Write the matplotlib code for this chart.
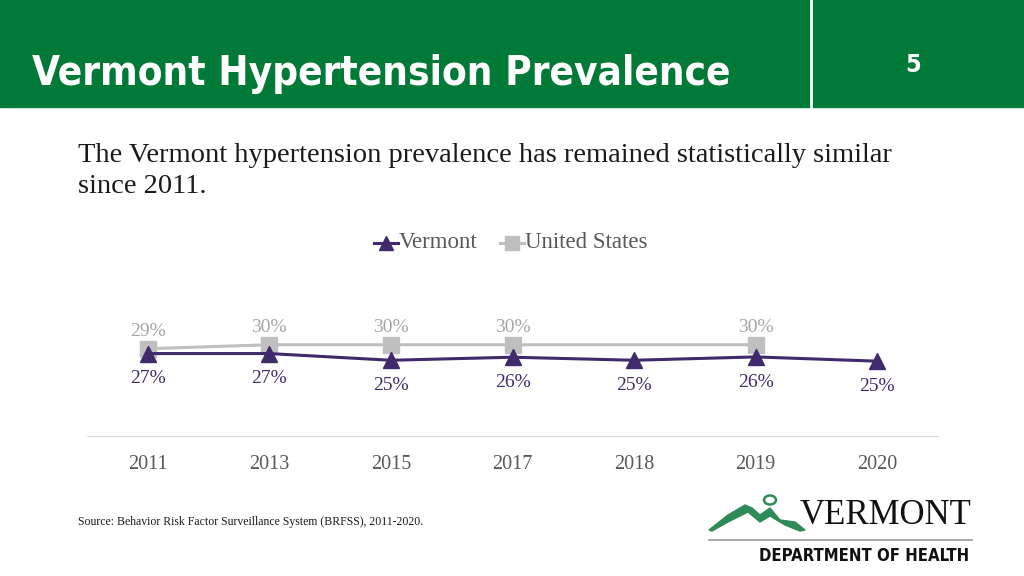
import numpy as np
import matplotlib
matplotlib.use('Agg')
import matplotlib.pyplot as plt
from matplotlib.patches import Rectangle, Polygon, Ellipse

# data
years = ['2011', '2013', '2015', '2017', '2018', '2019', '2020']
vermont = [27.1, 27.1, 24.9, 25.9, 24.9, 26.0, 24.6]
vermont_lbl = ['27%', '27%', '25%', '26%', '25%', '26%', '25%']
us = [28.7, 30.0, 30.0, 30.0, np.nan, 30.0, np.nan]
us_lbl = ['29%', '30%', '30%', '30%', '', '30%', '']

purple = '#402a6b'
grey = '#bfbfbf'
green = '#017a38'
serif = ['Liberation Serif', 'DejaVu Serif']
sans = ['DejaVu Sans']

fig = plt.figure(figsize=(10.24, 5.76), dpi=100)
lx = lambda v: v / 1024
ly = lambda v: 1 - v / 576

# header band
fig.patches.append(Rectangle((0, ly(107)), 1, 107/576, transform=fig.transFigure,
                             color=green, zorder=0))
fig.lines.append(plt.Line2D([lx(811), lx(811)], [1, ly(107)], transform=fig.transFigure,
                            color='white', lw=2))
fig.text(lx(32), ly(74), 'Vermont Hypertension Prevalence', color='white',
         family=sans, weight='bold', fontstretch='condensed', fontsize=29,
         va='center', ha='left')
fig.text(lx(913), ly(65), '5', color='white', family=sans, fontstretch='condensed',
         weight='bold', fontsize=18, va='center', ha='center')

fig.text(lx(78), ly(156), 'The Vermont hypertension prevalence has remained statistically similar',
         family=serif, fontsize=20.5, color='#1a1a1a', va='center')
fig.text(lx(78), ly(186), 'since 2011.', family=serif, fontsize=20.5, color='#1a1a1a', va='center')

ax = fig.add_axes([lx(87), ly(436), 851/1024, 146/576])
x = np.arange(len(years))

# grey line connects across the missing 2018 value
us_arr = np.array(us)
ok = ~np.isnan(us_arr)
ax.plot(x[ok], us_arr[ok], color=grey, lw=2.2, zorder=2)
ax.plot(x[ok], us_arr[ok], 's', color=grey, ms=11, zorder=3)
ax.plot(x, vermont, color=purple, lw=2.2, marker='^', ms=11, zorder=4)

for i in range(len(years)):
    if us_lbl[i]:
        ax.annotate(us_lbl[i], (x[i], us[i]), xytext=(0, 6), textcoords='offset points',
                    ha='center', va='bottom', color='#a6a6a6', family=serif, fontsize=14)
    ax.annotate(vermont_lbl[i], (x[i], vermont[i]), xytext=(0, -12), textcoords='offset points',
                ha='center', va='top', color=purple, family=serif, fontsize=14)

ax.set_xlim(-0.5, len(years) - 0.5)
ax.set_ylim(0, 48)
ax.set_xticks(x)
ax.set_xticklabels(years, family=serif, fontsize=14.5, color='#595959')
ax.tick_params(axis='x', length=0, pad=14)
ax.set_yticks([])
for s in ['top', 'left', 'right']:
    ax.spines[s].set_visible(False)
ax.spines['bottom'].set_color('#d9d9d9')

# legend
fig.lines.append(plt.Line2D([lx(374), lx(398)], [ly(243)] * 2, transform=fig.transFigure,
                            color=purple, lw=2.2))
fig.lines.append(plt.Line2D([lx(386)], [ly(243)], transform=fig.transFigure,
                            color=purple, marker='^', ms=10, lw=0))
fig.text(lx(399), ly(243), 'Vermont', family=serif, fontsize=16.5, color='#595959', va='center')
fig.lines.append(plt.Line2D([lx(500), lx(524)], [ly(243)] * 2, transform=fig.transFigure,
                            color=grey, lw=2.2))
fig.lines.append(plt.Line2D([lx(512)], [ly(243)], transform=fig.transFigure,
                            color=grey, marker='s', ms=10, lw=0))
fig.text(lx(525), ly(243), 'United States', family=serif, fontsize=16.5, color='#595959', va='center')

fig.text(lx(78), ly(522), 'Source: Behavior Risk Factor Surveillance System (BRFSS), 2011-2020.',
         family=serif, fontsize=8.5, color='#1a1a1a', va='center')

# logo, roughly
mountain = [(709, 530), (728, 515), (745, 505), (752, 508), (760, 515), (770, 508), (780, 520),
            (795, 522), (805, 530), (800, 531), (785, 525), (770, 516), (760, 522), (748, 512),
            (728, 522), (712, 531)]
fig.patches.append(Polygon([(lx(a), ly(b)) for a, b in mountain], closed=True,
                           transform=fig.transFigure, color='#2e8b57', zorder=3))
fig.patches.append(Ellipse((lx(770), ly(500)), 12/1024, 9/576, transform=fig.transFigure,
                           fill=False, ec='#2e8b57', lw=1.8))
fig.text(lx(971), ly(515), 'VERMONT', family=serif, fontsize=25, color='#111111',
         ha='right', va='center')
fig.lines.append(plt.Line2D([lx(709), lx(972)], [ly(540)] * 2, transform=fig.transFigure,
                            color='#999999', lw=1.2))
fig.text(lx(864), ly(556), 'DEPARTMENT OF HEALTH', family=sans, fontstretch='condensed',
         weight='bold', fontsize=12, color='#111111', ha='center', va='center')

fig.savefig('out.png', dpi=100)
